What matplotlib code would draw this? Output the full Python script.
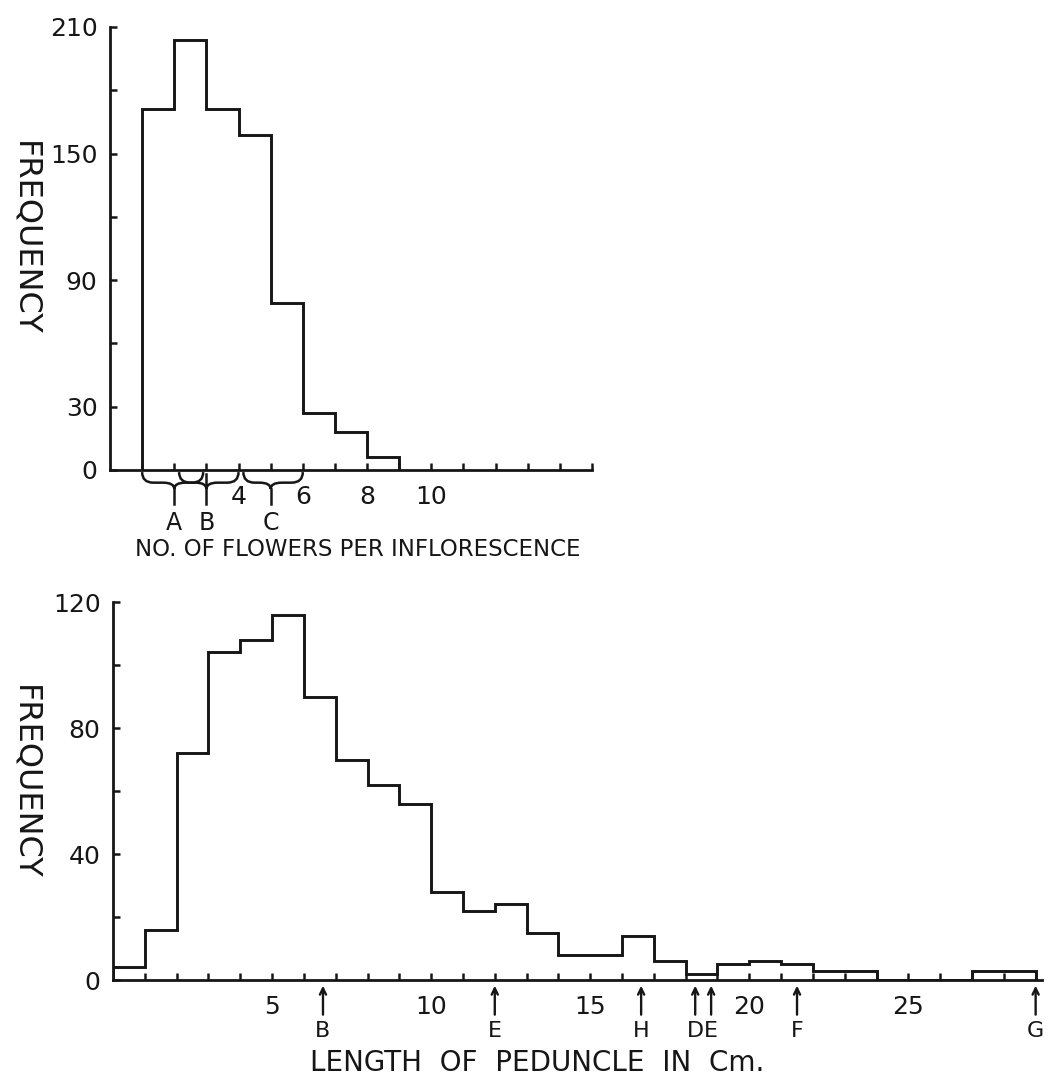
import matplotlib
matplotlib.use('Agg')
import matplotlib.pyplot as plt
from matplotlib.path import Path
from matplotlib.patches import PathPatch

plt.rcParams['font.family'] = ['DejaVu Sans']

# ---------------- data ----------------
# Top panel: number of flowers per inflorescence
flower_edges = [1, 2, 3, 4, 5, 6, 7, 8, 9]
flower_freq = [171, 204, 171, 159, 79, 27, 18, 6]
flower_xticks = list(range(1, 16))
flower_xticklabels = ['', '', '', '4', '', '6', '', '8', '', '10', '', '', '', '', '']
flower_yticks = [0, 30, 60, 90, 120, 150, 180, 210]
flower_yticklabels = ['0', '30', '', '90', '', '150', '', '210']
# group label, brace start, brace end, mark position
flower_groups = [('A', 1.0, 2.9, 2.0), ('B', 2.15, 4.0, 3.0), ('C', 4.15, 6.0, 5.0)]

# Bottom panel: length of peduncle (cm)
peduncle_edges = list(range(0, 30))
peduncle_freq = [4, 16, 72, 104, 108, 116, 90, 70, 62, 56, 28, 22, 24, 15, 8, 8,
                 14, 6, 2, 5, 6, 5, 3, 3, 0, 0, 0, 3, 3]
peduncle_xticks = list(range(1, 30))
peduncle_xticklabels = ['5' if v == 5 else '10' if v == 10 else '15' if v == 15 else
                        '20' if v == 20 else '25' if v == 25 else '' for v in peduncle_xticks]
peduncle_yticks = [0, 20, 40, 60, 80, 100, 120]
peduncle_yticklabels = ['0', '', '40', '', '80', '', '120']
peduncle_marks = [('B', 6.6), ('E', 12.0), ('H', 16.6), ('D', 18.3), ('E', 18.8),
                  ('F', 21.5), ('G', 29.0)]

INK = '#161616'
W, H = 1048, 1080
fig = plt.figure(figsize=(W / 100, H / 100), dpi=100)
fig.patch.set_facecolor('white')


def style_axes(ax):
    for s in ('top', 'right'):
        ax.spines[s].set_visible(False)
    for s in ('left', 'bottom'):
        ax.spines[s].set_linewidth(2.0)
        ax.spines[s].set_color(INK)
    ax.tick_params(direction='in', length=5, width=1.8, colors=INK,
                   labelsize=18, labelcolor=INK)
    ax.tick_params(axis='x', pad=11)
    ax.tick_params(axis='y', pad=9)
    ax.set_facecolor('none')


# ---------------- top panel ----------------
ax1 = fig.add_axes([110 / W, 1 - 470 / H, (592 - 110) / W, (470 - 27) / H])
ax1.stairs(flower_freq, flower_edges, baseline=0, color=INK, lw=2.1)
ax1.set_xlim(0, 15)
ax1.set_ylim(0, 210)
ax1.set_xticks(flower_xticks)
ax1.set_xticklabels(flower_xticklabels)
ax1.set_yticks(flower_yticks)
ax1.set_yticklabels(flower_yticklabels)
style_axes(ax1)


def brace(ax, x0, x1, xt, yt, ym, yb, d):
    verts = [(x0, yt), (x0, ym), (x0 + d, ym),
             (xt - d, ym),
             (xt, ym), (xt, yb),
             (xt, ym), (xt + d, ym),
             (x1 - d, ym),
             (x1, ym), (x1, yt)]
    codes = [Path.MOVETO, Path.CURVE3, Path.CURVE3,
             Path.LINETO,
             Path.CURVE3, Path.CURVE3,
             Path.CURVE3, Path.CURVE3,
             Path.LINETO,
             Path.CURVE3, Path.CURVE3]
    ax.add_patch(PathPatch(Path(verts, codes), fill=False, ec=INK, lw=1.8,
                           clip_on=False))


for i, (lab, x0, x1, xt) in enumerate(flower_groups):
    brace(ax1, x0, x1, xt, -1.0, -6.0, -9.0, 0.35)
    y_start = -2.0 if i == 1 else -9.0
    ax1.plot([xt, xt], [y_start, -16], color=INK, lw=1.8, clip_on=False)
    ax1.text(xt, -25, lab, ha='center', va='center', fontsize=17, color=INK)

fig.text(358 / W, 1 - 549 / H, 'NO. OF FLOWERS PER INFLORESCENCE',
         ha='center', va='center', fontsize=16.5, color=INK)
fig.text(25 / W, 1 - 238 / H, 'FREQUENCY', rotation=270,
         ha='center', va='center', fontsize=23, color=INK)

# ---------------- bottom panel ----------------
ax2 = fig.add_axes([113 / W, 1 - 980 / H, (1042 - 113) / W, (980 - 602) / H])
ax2.stairs(peduncle_freq, peduncle_edges, baseline=0, color=INK, lw=2.1)
ax2.set_xlim(0, 29.2)
ax2.set_ylim(0, 120)
ax2.set_xticks(peduncle_xticks)
ax2.set_xticklabels(peduncle_xticklabels)
ax2.set_yticks(peduncle_yticks)
ax2.set_yticklabels(peduncle_yticklabels)
style_axes(ax2)

for lab, xm in peduncle_marks:
    ax2.annotate('', xy=(xm, -1.8), xytext=(xm, -11.0),
                 arrowprops=dict(arrowstyle='->,head_length=0.45,head_width=0.22',
                                 color=INK, lw=1.7, shrinkA=0, shrinkB=0),
                 annotation_clip=False)
    ax2.text(xm, -16.3, lab, ha='center', va='center', fontsize=16, color=INK)

fig.text(537 / W, 1 - 1063 / H, 'LENGTH  OF  PEDUNCLE  IN  Cm.',
         ha='center', va='center', fontsize=20, color=INK)
fig.text(25 / W, 1 - 782 / H, 'FREQUENCY', rotation=270,
         ha='center', va='center', fontsize=23, color=INK)

fig.savefig('out.png', dpi=100, facecolor='white')
